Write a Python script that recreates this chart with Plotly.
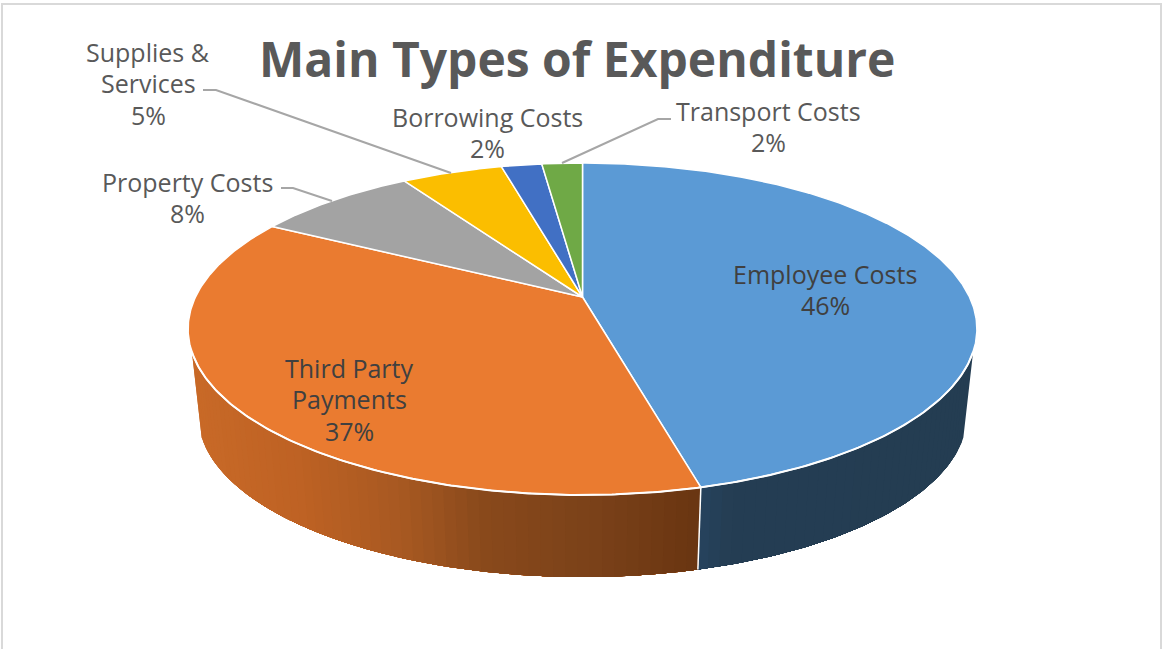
import numpy as np
import plotly.graph_objects as go

# Expenditure shares, in percent, clockwise from twelve o'clock
categories = ["Employee Costs", "Third Party Payments", "Property Costs",
              "Supplies & Services", "Borrowing Costs", "Transport Costs"]
values = [46, 37, 8, 5, 2, 2]
top_colors = ["#5b9ad5", "#ea7b30", "#a3a3a3", "#fbbe00", "#4170c4", "#6fa946"]

# Each label is set line by line: category lines, then the share
label_lines = [["Employee Costs"], ["Third Party", "Payments"], ["Property Costs"],
               ["Supplies &", "Services"], ["Borrowing Costs"], ["Transport Costs"]]
label_centres = [(825, 274), (349, 368), (187, 182), (148, 52), (487, 117), (768, 111)]
LINE_STEP = 31.4

# Leader lines for the labels placed outside the pie
leaders = [
    ([281, 293, 332], [188, 188, 201]),
    ([203, 216, 451], [90, 90, 173]),
    ([671, 658, 562], [119, 119, 163]),
]

TEXT = "#595959"
TEXT_INSIDE = "#404040"
LABEL_FONT = "Open Sans"

# Perspective model of the disc: the pie's centre projects above the ellipse's middle
CX, CY_TOP, CY_BOTTOM = 582.5, 297.0, 384.0
RX, RY, K = 387.0, 159.8, 0.1928
BOTTOM_SCALE = 0.975
WALL_FROM, WALL_TO = 108.8, 251.2


def project(deg, cy=CY_TOP, scale=1.0):
    t = np.radians(deg)
    u, v = np.sin(t), -np.cos(t)
    s = 1.0 / (1.0 - K * v)
    return CX + scale * RX * u * s, cy + scale * RY * v * s


def rim(a, b, cy=CY_TOP, scale=1.0):
    n = max(2, int(abs(b - a) * 2) + 1)
    return project(np.linspace(a, b, n), cy, scale)


def lerp_colour(x, stops):
    xs = [s[0] for s in stops]
    return "rgb(%d,%d,%d)" % tuple(np.interp(x, xs, [s[1][i] for s in stops]) for i in range(3))


ORANGE_WALL = [(190, (201, 106, 40)), (300, (190, 98, 36)), (400, (168, 89, 34)),
               (480, (138, 74, 28)), (600, (122, 65, 25)), (695, (106, 54, 18))]
BLUE_WALL = [(700, (39, 67, 94)), (730, (37, 62, 84)), (975, (36, 61, 82))]

edges = np.concatenate([[0], np.cumsum(values)]) * 3.6
boundary = edges[1]

fig = go.Figure()


def wall_strips(a, b, stops, step=1.5):
    # Each strip runs to the far end of the section and the next one paints over it,
    # so no hairline gaps appear between neighbouring shades
    order = np.arange(a, b, step)
    if a > boundary - 1e-6:
        order = order[::-1]
    for p in order:
        lo, hi = (a, p + step) if a > boundary - 1e-6 else (p, b)
        hi = min(hi, b)
        tx, ty = rim(lo, hi)
        bx, by = rim(lo, hi, CY_BOTTOM, BOTTOM_SCALE)
        mid = project(p + step / 2)[0]
        colour = lerp_colour(mid, stops)
        fig.add_trace(go.Scatter(
            x=np.concatenate([tx, bx[::-1]]), y=np.concatenate([ty, by[::-1]]),
            mode="lines", fill="toself", fillcolor=colour,
            line=dict(width=0), hoverinfo="skip", showlegend=False))


# Side wall: only the two front slices are visible
wall_strips(WALL_FROM, boundary, BLUE_WALL)
wall_strips(boundary, WALL_TO, ORANGE_WALL)

# Top face of every slice
for name, a, b, colour in zip(categories, edges[:-1], edges[1:], top_colors):
    x, y = rim(a, b)
    fig.add_trace(go.Scatter(
        x=np.concatenate([[CX], x, [CX]]), y=np.concatenate([[CY_TOP], y, [CY_TOP]]),
        mode="lines", fill="toself", fillcolor=colour,
        line=dict(color="white", width=1.5), name=name, showlegend=False,
        hoverinfo="name"))

# Outer wall edge and the seam between the two visible wall sections
ex, ey = rim(WALL_FROM, WALL_TO)
fig.add_trace(go.Scatter(x=ex, y=ey, mode="lines", line=dict(color="white", width=2),
                         hoverinfo="skip", showlegend=False))
sx0, sy0 = project(boundary)
sx1, sy1 = project(boundary, CY_BOTTOM, BOTTOM_SCALE)
fig.add_trace(go.Scatter(x=[sx0, sx1], y=[sy0, sy1], mode="lines",
                         line=dict(color="white", width=1.5),
                         hoverinfo="skip", showlegend=False))

for lx, ly in leaders:
    fig.add_trace(go.Scatter(x=lx, y=ly, mode="lines",
                             line=dict(color="#a6a6a6", width=2),
                             hoverinfo="skip", showlegend=False))

# Data labels
for i, (lines, (cx, cy), val) in enumerate(zip(label_lines, label_centres, values)):
    colour = TEXT_INSIDE if i < 2 else TEXT
    for j, line in enumerate(lines + [f"{val}%"]):
        fig.add_annotation(x=cx, y=cy + j * LINE_STEP, text=line, showarrow=False,
                           xanchor="center", yanchor="middle",
                           font=dict(family=LABEL_FONT, size=25, color=colour))

fig.add_annotation(x=576.5, y=58, text="<b>Main Types of Expenditure</b>", showarrow=False,
                   xanchor="center", yanchor="middle",
                   font=dict(family=LABEL_FONT, size=48, color=TEXT))

# Frame around the chart area, running off the bottom of the page
fig.add_shape(type="path", path="M 2 660 L 2 4 L 1161 4 L 1161 660",
              line=dict(color="#d9d9d9", width=2), layer="below")

fig.update_layout(
    width=1163, height=649, margin=dict(l=0, r=0, t=0, b=0),
    paper_bgcolor="white", plot_bgcolor="white", showlegend=False,
    xaxis=dict(range=[0, 1163], visible=False, fixedrange=True),
    yaxis=dict(range=[649, 0], visible=False, fixedrange=True),
)
fig.write_html("out.html", config={"displayModeBar": False})
